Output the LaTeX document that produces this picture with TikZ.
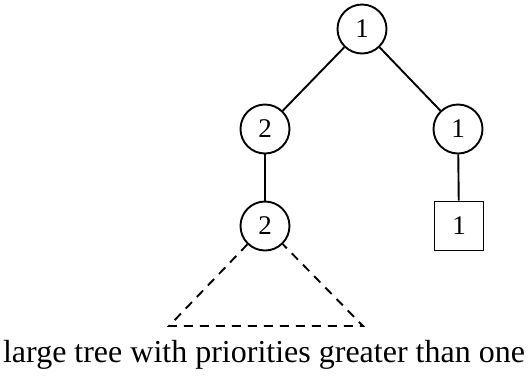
\documentclass[tikz,border=0pt]{standalone}
\usepackage{fontspec}
\setmainfont{Liberation Serif}
\usetikzlibrary{positioning}

\begin{document}
\begin{tikzpicture}[
    x=1pt, y=1pt,
    vertex/.style={draw, circle, line width=1.9pt, minimum size=49pt, inner sep=0pt, font=\fontsize{27}{29}\selectfont},
    leaf/.style={draw, rectangle, line width=1.9pt, minimum size=49pt, inner sep=0pt, font=\fontsize{27}{29}\selectfont},
    edge/.style={line width=1.9pt},
    hidden/.style={line width=1.9pt, dash pattern=on 9pt off 7pt}
]
    \useasboundingbox (0,0) rectangle (528,-376);

    % die knoten
    \node[vertex] (root) at (362,-29) {1};
    \node[vertex] (left) at (265,-129) {2};
    \node[vertex] (right) at (458,-129) {1};
    \node[vertex] (low) at (265,-226) {2};
    \node[leaf] (box) at (459,-226) {1};

    % kanten
    \draw[edge] (root) -- (left);
    \draw[edge] (root) -- (right);
    \draw[edge] (left) -- (low);
    \draw[edge] (right) -- (box);

    % grosser teilbaum
    \coordinate (bl) at (169,-326);
    \coordinate (br) at (363,-326);
    \draw[hidden] (low) -- (bl) -- (br) -- (low);

    \node[font=\fontsize{32}{36}\selectfont, anchor=base] (caption) at (264,-362) {large tree with priorities greater than one};
\end{tikzpicture}
\end{document}
